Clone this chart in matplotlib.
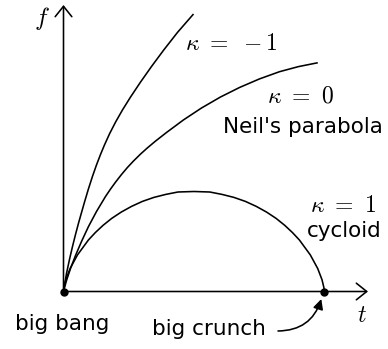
import matplotlib.pyplot as plt

plt.rcParams['mathtext.fontset'] = 'cm'
plt.rcParams['font.family'] = 'DejaVu Sans'

# scale factor f(t) for the three curvatures (arbitrary units, t from big bang)
t_open = [0, 3, 6, 9, 12, 15, 18, 21, 25, 29, 33, 37, 41, 46, 52, 59, 67, 77,
          88, 100, 114, 129.5]
f_open = [0, 18, 32.1, 45, 57, 68.3, 78.9, 89.4, 102.8, 115.2, 126.6, 137.0,
          146.6, 157.6, 169.3, 181.6, 194.4, 209.4, 225.0, 241.2, 259.1, 276.9]

t_flat = [0, 3, 7, 12, 18, 25, 33, 42, 47, 52, 58, 64, 70, 77, 84, 92, 103,
          120, 138, 157, 176, 196, 216, 235, 253.5]
f_flat = [0, 11, 23, 36, 50, 65, 80, 95, 102.4, 109.3, 117.0, 124.1, 130.5,
          137.4, 143.7, 150.4, 159.0, 171.6, 183.5, 194.5, 204.0, 212.6, 219.8,
          224.9, 228.6]

t_closed = [0, 0.4, 2.3, 6.6, 14.0, 24.9, 31.8, 39.6, 48.2, 57.7, 68.0, 78.9,
            90.4, 102.3, 114.5, 130.4, 146.3, 158.5, 170.4, 181.9, 192.8,
            203.1, 212.6, 221.2, 229.0, 235.9, 246.8, 254.2, 258.5, 260.4, 260.8]
f_closed = [0, 3.9, 11.8, 23.0, 36.6, 51.5, 58.9, 66.2, 73.1, 79.4, 85.1, 90.1,
            94.1, 97.1, 99.5, 100, 99.5, 97.1, 94.1, 90.1, 85.1,
            79.4, 73.1, 66.2, 58.9, 51.5, 36.6, 23.0, 11.8, 3.9, 0]

curve_labels = [r'$\kappa\ =\ -1$', r'$\kappa\ =\ 0$', r'$\kappa\ =\ 1$']
curve_names = ["Neil's parabola", 'cycloid']

fig = plt.figure(figsize=(3.88, 3.49), dpi=100)
ax = fig.add_axes([0, 0, 1, 1])
ax.set_xlim(-63.5, 324.5)
ax.set_ylim(-57.5, 291.5)
ax.axis('off')

lw = 1.15
ax.plot(t_open, f_open, color='black', lw=lw, solid_joinstyle='round')
ax.plot(t_flat, f_flat, color='black', lw=lw, solid_joinstyle='round')
ax.plot(t_closed, f_closed, color='black', lw=lw, solid_joinstyle='round')

# axes with open arrow heads
axis_arrow = dict(arrowstyle='->,head_length=0.75,head_width=0.6', lw=lw,
                  color='black', shrinkA=0, shrinkB=0, mutation_scale=10)
ax.annotate('', xy=(0, 286.5), xytext=(0, 0), arrowprops=axis_arrow)
ax.annotate('', xy=(304.5, 0), xytext=(0, 0), arrowprops=axis_arrow)
ax.text(-21.5, 273.5, r'$f$', fontsize=18, ha='center', va='center')
ax.text(298.5, -23.5, r'$t$', fontsize=17, ha='center', va='center')

# big bang / big crunch
ax.plot([t_closed[0], t_closed[-1]], [f_closed[0], f_closed[-1]], 'o',
        color='black', ms=5, zorder=5)
ax.text(-48.5, -38.5, 'big bang', fontsize=15.5, ha='left', va='baseline')
ax.text(88.5, -43.5, 'big crunch', fontsize=15.5, ha='left', va='baseline')
ax.annotate('', xy=(t_closed[-1] - 3, -7.5), xytext=(214.5, -39.5),
            arrowprops=dict(arrowstyle='-|>,head_length=0.6,head_width=0.3',
                            lw=lw, color='black', shrinkA=0, shrinkB=0,
                            mutation_scale=10,
                            connectionstyle='arc3,rad=0.36'))

# curve labels
ax.text(121.5, 241.5, curve_labels[0], fontsize=17, ha='left', va='baseline')
ax.text(203.5, 189, curve_labels[1], fontsize=17, ha='left', va='baseline')
ax.text(159.5, 158.5, curve_names[0], fontsize=15.5, ha='left', va='baseline')
ax.text(246.5, 79.5, curve_labels[2], fontsize=17, ha='left', va='baseline')
ax.text(243.5, 54.5, curve_names[1], fontsize=15.5, ha='left', va='baseline')

fig.savefig('out.png', dpi=100)
